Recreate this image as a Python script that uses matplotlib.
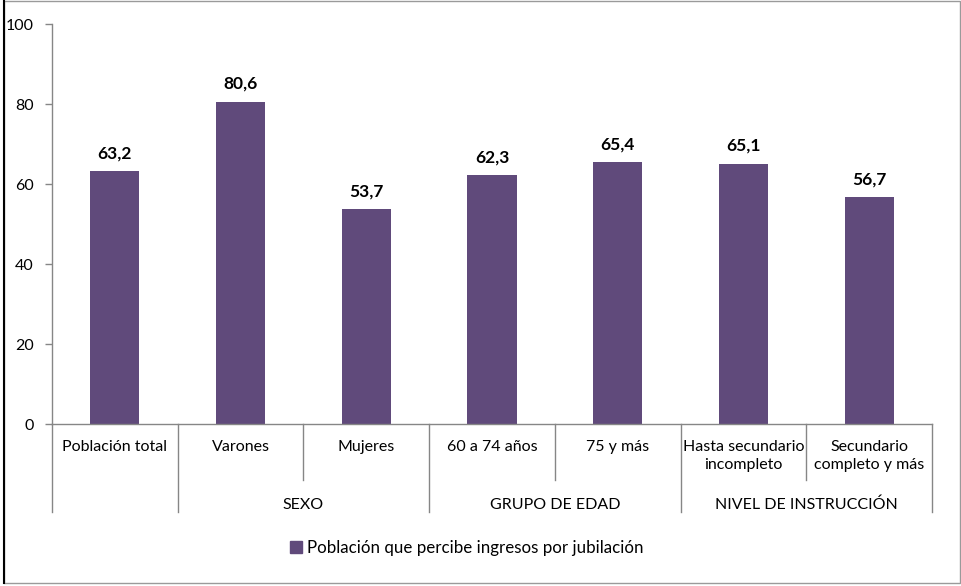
import matplotlib.pyplot as plt
from matplotlib.patches import Rectangle
from matplotlib.lines import Line2D

plt.rcParams['font.family'] = ['Lato', 'DejaVu Sans']

# Data
categories = ['Población total', 'Varones', 'Mujeres', '60 a 74 años', '75 y más',
              'Hasta secundario\nincompleto', 'Secundario\ncompleto y más']
values = [63.2, 80.6, 53.7, 62.3, 65.4, 65.1, 56.7]
groups = ['', 'SEXO', 'GRUPO DE EDAD', 'NIVEL DE INSTRUCCIÓN']
group_spans = [(0, 0), (1, 2), (3, 4), (5, 6)]
series_name = 'Población que percibe ingresos por jubilación'

bar_color = '#604A7B'
axis_color = '#868686'

fig = plt.figure(figsize=(9.61, 5.86), dpi=100)
W, H = 961, 586
ax = fig.add_axes([52 / W, 1 - 424 / H, (932 - 52) / W, (424 - 24) / H])

x = list(range(len(categories)))
ax.bar(x, values, width=0.39, color=bar_color, zorder=2)

for xi, v in zip(x, values):
    ax.annotate(f'{v:.1f}'.replace('.', ','), (xi, v), xytext=(0, 7),
                textcoords='offset points', ha='center', va='bottom',
                fontsize=12.5, fontweight='bold', color='black')

ax.set_xlim(-0.5, len(categories) - 0.5)
ax.set_ylim(0, 100)
ax.set_yticks([0, 20, 40, 60, 80, 100])
ax.tick_params(axis='y', length=5, width=1, color=axis_color, labelsize=11.5, pad=8)
ax.set_xticks([])

for s in ['top', 'right']:
    ax.spines[s].set_visible(False)
for s in ['left', 'bottom']:
    ax.spines[s].set_color(axis_color)
    ax.spines[s].set_linewidth(1)

tr = ax.get_xaxis_transform()

# category labels
for xi, lab in zip(x, categories):
    ax.text(xi, -0.04, lab, transform=tr, ha='center', va='top',
            fontsize=11.5, linespacing=1.35)

# separators
group_edges = set()
for a, b in group_spans:
    group_edges.add(a - 0.5)
    group_edges.add(b + 0.5)
for k in range(len(categories) + 1):
    edge = k - 0.5
    y_end = -0.22 if edge in group_edges else -0.14
    ax.add_line(Line2D([edge, edge], [0, y_end], transform=tr, color=axis_color,
                       lw=1, clip_on=False))

# group labels
for g, (a, b) in zip(groups, group_spans):
    if g:
        ax.text((a + b) / 2, -0.2025, g, transform=tr, ha='center', va='center',
                fontsize=11.5)

# legend
handle = Rectangle((0, 0), 1, 1, color=bar_color)
fig.legend([handle], [series_name], loc='center', bbox_to_anchor=(467 / W, 1 - 548 / H),
           frameon=False, fontsize=12.2, handlelength=0.7, handleheight=0.7,
           handletextpad=0.3)

# outer border
fig.add_artist(Rectangle((4 / W, 3 / H), 956 / W, 582 / H, transform=fig.transFigure,
                         fill=False, edgecolor='#9a9a9a', lw=1))
fig.add_artist(Line2D([4 / W, 4 / W], [3 / H, 1], transform=fig.transFigure,
                      color='black', lw=1.5))

fig.savefig('out.png', dpi=100)
